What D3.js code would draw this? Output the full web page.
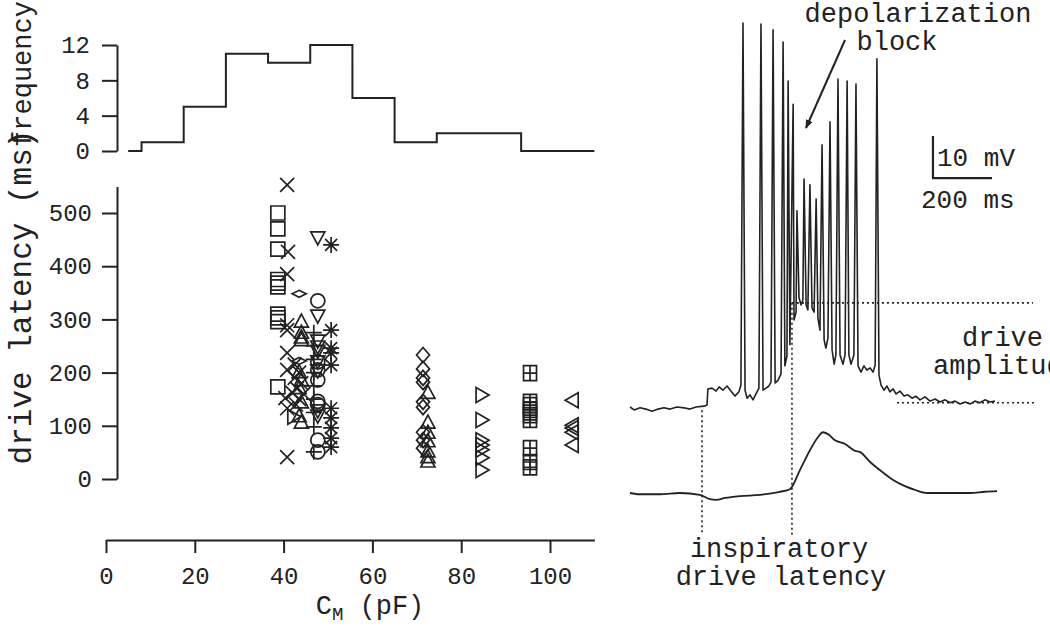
<!DOCTYPE html>
<html>
<head>
<meta charset="utf-8">
<script src="https://cdn.jsdelivr.net/npm/d3@7"></script>
<style>
  body { margin: 0; background: #fff; }
  svg text { font-family: "Liberation Mono", "DejaVu Sans Mono", monospace; fill: #222; }
</style>
</head>
<body>
<svg id="fig" width="1050" height="628"></svg>
<script>
// ---- data ----
const cmTicks = [0, 20, 40, 60, 80, 100];
const latencyTicks = [0, 100, 200, 300, 400, 500];
const freqTicks = [0, 4, 8, 12];

// histogram of C_M (bin edges in pF, counts)
const histEdges = [5, 8, 17.5, 27, 36.5, 46, 55.5, 65, 74.5, 84, 93.5, 110];
const histCounts = [0, 1, 5, 11, 10, 12, 6, 1, 2, 2, 0];

// scatter: [C_M (pF), drive latency (ms)] per marker type
const squarePts = [[38.7, 500], [38.7, 470], [38.7, 432], [38.7, 375], [38.7, 368], [38.7, 361],
  [38.7, 310], [38.7, 303], [38.7, 296], [38.7, 173]];
const crossPts = [[40.8, 553], [41, 427], [40.8, 385], [40.8, 289], [40.8, 280], [40.8, 237],
  [40.8, 205], [40.4, 152], [40.8, 133], [40.8, 41], [42.5, 215], [43.5, 200], [42.5, 190],
  [44, 180], [43, 170], [44.5, 160], [42, 162], [43.5, 150], [42.8, 140]];
const flatDiamondPts = [[43.5, 348], [43.5, 222]];
const triUpPts = [[44, 295], [44, 274], [44, 265], [44, 260], [43.5, 200], [44, 185], [43.5, 170],
  [44, 143], [43.5, 117], [44, 105]];
const triRightPts = [[42.3, 117]];
const plusPts = [[46.8, 275], [46.8, 250], [46.8, 225], [46.8, 200], [46.8, 175], [46.8, 150],
  [46.8, 125], [46.8, 98], [46.8, 51]];
const triDownPts = [[47.7, 455], [47.7, 308], [47.7, 261], [47.7, 250], [47.7, 242], [47.7, 222],
  [47.7, 205], [47.7, 130], [47.7, 120]];
const circlePts = [[47.7, 335], [47.7, 220], [47.7, 205], [47.7, 186], [47.7, 146], [47.7, 140],
  [47.7, 73], [47.7, 51]];
const asteriskPts = [[50.7, 440], [50.7, 280], [50.7, 246], [50.7, 237], [50.7, 214], [50.7, 133],
  [50.7, 115], [50.7, 96], [50.7, 77], [50.7, 60]];
const diamondPts = [[71.4, 233], [71.4, 207], [71.4, 190], [71.4, 182], [71.4, 145], [71.4, 135],
  [71.4, 88], [71.4, 73], [71.4, 58]];
const triUp2Pts = [[72.5, 161], [72.5, 105], [72.5, 86], [72.5, 70], [72.5, 51], [72.5, 40], [72.5, 32]];
const triRight2Pts = [[84.7, 158], [84.7, 111], [84.7, 73], [84.7, 64], [84.7, 55], [84.7, 40], [84.7, 17]];
const boxPlusPts = [[95.5, 199], [95.5, 145], [95.5, 139], [95.5, 130], [95.5, 120], [95.5, 111],
  [95.5, 58], [95.5, 32], [95.5, 22]];
const triLeftPts = [[105, 148], [105, 101], [105, 96], [105, 88], [105, 64]];

// membrane potential trace: time (ms), voltage (mV, relative to rest)
const vmTime = [0, 14, 34, 54, 75, 95, 115, 136, 159, 183, 203, 224, 251, 261, 264, 278, 292, 302,
  315, 329, 342, 356, 369, 376, 383, 390, 397, 407, 417, 427, 437, 444, 451, 461, 471, 478, 485,
  492, 502, 512, 519, 525, 532, 536, 542, 553, 556, 563, 566, 573, 580, 586, 590, 597, 603, 610,
  617, 624, 631, 637, 644, 651, 658, 664, 671, 678, 685, 692, 698, 705, 712, 722, 729, 736, 742,
  749, 759, 766, 773, 783, 793, 803, 814, 824, 831, 837, 844, 851, 861, 871, 881, 892, 902, 915,
  929, 942, 956, 969, 983, 1000, 1017, 1034, 1051, 1068, 1085, 1102, 1119, 1136, 1153, 1169, 1186,
  1203, 1220, 1237];
const vmVolt = [0, -0.7, -0.2, -0.5, -1.0, -0.5, -0.2, -0.5, 0, -0.2, -0.5, 0, 0.2, 0.5, 4.3, 4.5,
  3.8, 4.8, 4.0, 5.0, 3.8, 2.6, 3.6, 5.2, 91.4, 4.0, 2.1, 2.9, 1.7, 3.1, 4.5, 91.2, 4.0, 4.5, 5.0,
  6.0, 89.8, 5.7, 6.4, 7.9, 86.9, 9.8, 12.1, 77.6, 14.8, 72.1, 20.7, 22.6, 46.7, 26.0, 24.3, 25.5,
  54.3, 24.3, 23.1, 52.9, 23.6, 22.6, 49.5, 21.2, 18.3, 62.4, 16.0, 14.0, 16.4, 67.9, 13.6, 10.2,
  12.4, 78.1, 12.4, 10.2, 12.4, 77.6, 12.4, 10.2, 12.4, 76.9, 9.8, 8.3, 9.8, 8.8, 9.3, 8.3, 10.0,
  82.9, 7.6, 5.2, 4.0, 5.0, 3.6, 4.3, 3.1, 3.8, 2.6, 2.9, 2.1, 2.6, 1.7, 2.4, 1.4, 1.9, 1.2, 1.7,
  1.0, 1.4, 0.7, 1.2, 0.7, 1.4, 1.0, 1.7, 1.2, 1.4];

// integrated nerve activity: time (ms), arbitrary units
const intTime = [0, 34, 102, 169, 237, 271, 292, 322, 373, 441, 508, 542, 576, 610, 637, 654, 671,
  695, 729, 763, 780, 814, 847, 892, 932, 966, 1007, 1085, 1153, 1203, 1244];
const intVal = [0, -0.2, -0.2, 0, -0.3, -1.0, -1.1, -0.8, -0.5, -0.3, 0.2, 0.6, 3.7, 6.9, 9.0, 9.8,
  9.5, 8.5, 7.9, 6.8, 6.6, 5.0, 3.7, 2.1, 1.1, 0.5, 0, 0, 0, 0.2, 0.3];

const driveOnset = 244;      // ms
const burstOnset = 549;      // ms
const peakLevel = 24.8;      // mV
const restLevel = 1.0;       // mV

// ---- drawing ----
const svg = d3.select('#fig');
const ink = '#222';

const x = d3.scaleLinear().domain([0, 110]).range([106, 594.4]);
const yHist = d3.scaleLinear().domain([0, 12]).range([151, 45]);
const yLat = d3.scaleLinear().domain([0, 550]).range([479, 186.4]);

function styleAxis(g) {
  g.selectAll('path, line').attr('stroke', ink).attr('stroke-width', 2);
  g.selectAll('text').style('font-size', '24px').attr('fill', ink);
}

// histogram axis
svg.append('g')
  .attr('transform', 'translate(117,0)')
  .call(d3.axisLeft(yHist).tickValues(freqTicks).tickSize(15).tickSizeOuter(0).tickPadding(12))
  .call(styleAxis)
  .call(g => g.selectAll('text').attr('font-family', null));

// histogram stairs
const stairs = histEdges.map((e, i) => [e, i < histCounts.length ? histCounts[i] : histCounts[histCounts.length - 1]]);
svg.append('path')
  .datum(stairs)
  .attr('fill', 'none')
  .attr('stroke', ink)
  .attr('stroke-width', 2)
  .attr('d', d3.line().x(d => x(d[0])).y(d => yHist(d[1])).curve(d3.curveStepAfter));

// scatter axes
svg.append('g')
  .attr('transform', 'translate(117,0)')
  .call(d3.axisLeft(yLat).tickValues(latencyTicks).tickSize(15).tickSizeOuter(0).tickPadding(10))
  .call(styleAxis);

svg.append('g')
  .attr('transform', 'translate(0,540)')
  .call(d3.axisBottom(x).tickValues(cmTicks).tickSize(13).tickSizeOuter(0).tickPadding(14))
  .call(styleAxis);

// axis titles
svg.append('text')
  .attr('transform', 'translate(31,74) rotate(-90)')
  .attr('text-anchor', 'middle')
  .style('font-size', '27px')
  .text('frequency');

svg.append('text')
  .attr('transform', 'translate(31,297) rotate(-90)')
  .attr('text-anchor', 'middle')
  .style('font-size', '31px')
  .text('drive latency (ms)');

const xTitle = svg.append('text')
  .attr('x', 370).attr('y', 614)
  .attr('text-anchor', 'middle')
  .style('font-size', '27px');
xTitle.append('tspan').text('C');
xTitle.append('tspan').attr('dy', 6).style('font-size', '19px').text('M');
xTitle.append('tspan').attr('dy', -6).text(' (pF)');

// marker shapes (centered at 0,0)
const shapes = {
  square: 'M-7,-7H7V7H-7Z',
  boxPlus: 'M-6.5,-7.5H6.5V7.5H-6.5ZM0,-7.5V7.5M-6.5,0H6.5',
  cross: 'M-7,-7L7,7M-7,7L7,-7',
  plus: 'M-8,0H8M0,-8V8',
  asterisk: 'M-6,-6L6,6M-6,6L6,-6M0,-8V8M-8,0H8',
  triUp: 'M0,-8L7,5L-7,5Z',
  triDown: 'M0,8L7,-5L-7,-5Z',
  triRight: 'M-6,-7.5L7,0L-6,7.5Z',
  triLeft: 'M6,-7.5L-7,0L6,7.5Z',
  diamond: 'M0,-7.5L6.5,0L0,7.5L-6.5,0Z',
  flatDiamond: 'M0,-3.5L7,0L0,3.5L-7,0Z',
  circle: 'M7,0A7,7 0 1,1 -7,0A7,7 0 1,1 7,0Z'
};

const markerGroups = [
  [squarePts, 'square'], [crossPts, 'cross'], [flatDiamondPts, 'flatDiamond'],
  [triUpPts, 'triUp'], [triRightPts, 'triRight'], [plusPts, 'plus'], [triDownPts, 'triDown'],
  [circlePts, 'circle'], [asteriskPts, 'asterisk'], [diamondPts, 'diamond'],
  [triUp2Pts, 'triUp'], [triRight2Pts, 'triRight'], [boxPlusPts, 'boxPlus'], [triLeftPts, 'triLeft']
];

const markers = svg.append('g')
  .attr('fill', 'none')
  .attr('stroke', ink)
  .attr('stroke-width', 1.7);

markerGroups.forEach(([pts, shape]) => {
  markers.selectAll(null)
    .data(pts)
    .join('path')
    .attr('d', shapes[shape])
    .attr('transform', d => `translate(${x(d[0])},${yLat(d[1])})`);
});

// ---- right panel: traces ----
const tx = d3.scaleLinear().domain([0, 1250]).range([630, 998.75]);
const vy = d3.scaleLinear().domain([0, 10]).range([407, 365]);
const iy = d3.scaleLinear().domain([0, 10]).range([493, 431]);

svg.append('path')
  .datum(d3.zip(vmTime, vmVolt))
  .attr('fill', 'none')
  .attr('stroke', ink)
  .attr('stroke-width', 1.6)
  .attr('stroke-linejoin', 'round')
  .attr('d', d3.line().x(d => tx(d[0])).y(d => vy(d[1])));

svg.append('path')
  .datum(d3.zip(intTime, intVal))
  .attr('fill', 'none')
  .attr('stroke', ink)
  .attr('stroke-width', 1.8)
  .attr('d', d3.line().x(d => tx(d[0])).y(d => iy(d[1])).curve(d3.curveMonotoneX));

// dotted guides
const dots = svg.append('g')
  .attr('stroke', ink)
  .attr('stroke-width', 1.6)
  .attr('stroke-dasharray', '2,3');
dots.append('line')
  .attr('x1', tx(driveOnset)).attr('x2', tx(driveOnset))
  .attr('y1', vy(-0.8)).attr('y2', 533);
dots.append('line')
  .attr('x1', tx(burstOnset)).attr('x2', tx(burstOnset))
  .attr('y1', vy(peakLevel)).attr('y2', 535);
dots.append('line')
  .attr('x1', tx(burstOnset)).attr('x2', 1033)
  .attr('y1', vy(peakLevel)).attr('y2', vy(peakLevel));
dots.append('line')
  .attr('x1', 897).attr('x2', 1037)
  .attr('y1', vy(restLevel)).attr('y2', vy(restLevel));

// scale bar: 10 mV, 200 ms
const barT0 = 1027, barV0 = 54.5;
svg.append('path')
  .attr('fill', 'none')
  .attr('stroke', ink)
  .attr('stroke-width', 2.2)
  .attr('d', `M${tx(barT0)},${vy(barV0 + 10)}V${vy(barV0)}H${tx(barT0 + 200)}`);

svg.append('text').attr('x', 937).attr('y', 166).style('font-size', '26px').text('10 mV');
svg.append('text').attr('x', 921).attr('y', 208).style('font-size', '26px').text('200 ms');

// annotations
svg.append('defs').append('marker')
  .attr('id', 'arrow')
  .attr('viewBox', '0 0 10 10')
  .attr('refX', 9).attr('refY', 5)
  .attr('markerWidth', 9).attr('markerHeight', 9)
  .attr('orient', 'auto')
  .attr('markerUnits', 'userSpaceOnUse')
  .append('path')
  .attr('d', 'M0,1L10,5L0,9Z')
  .attr('fill', ink);

svg.append('line')
  .attr('x1', 845).attr('y1', 40)
  .attr('x2', 806).attr('y2', 128)
  .attr('stroke', ink)
  .attr('stroke-width', 2)
  .attr('marker-end', 'url(#arrow)');

const note = (txt, xx, yy, anchor) => svg.append('text')
  .attr('x', xx).attr('y', yy)
  .attr('text-anchor', anchor)
  .style('font-size', '27px')
  .text(txt);

note('depolarization', 918, 22, 'middle');
note('block', 897, 50, 'middle');
note('drive', 962, 346, 'start');
note('amplitude', 933, 374, 'start');
note('inspiratory', 779, 557, 'middle');
note('drive latency', 781, 585, 'middle');
</script>
</body>
</html>
